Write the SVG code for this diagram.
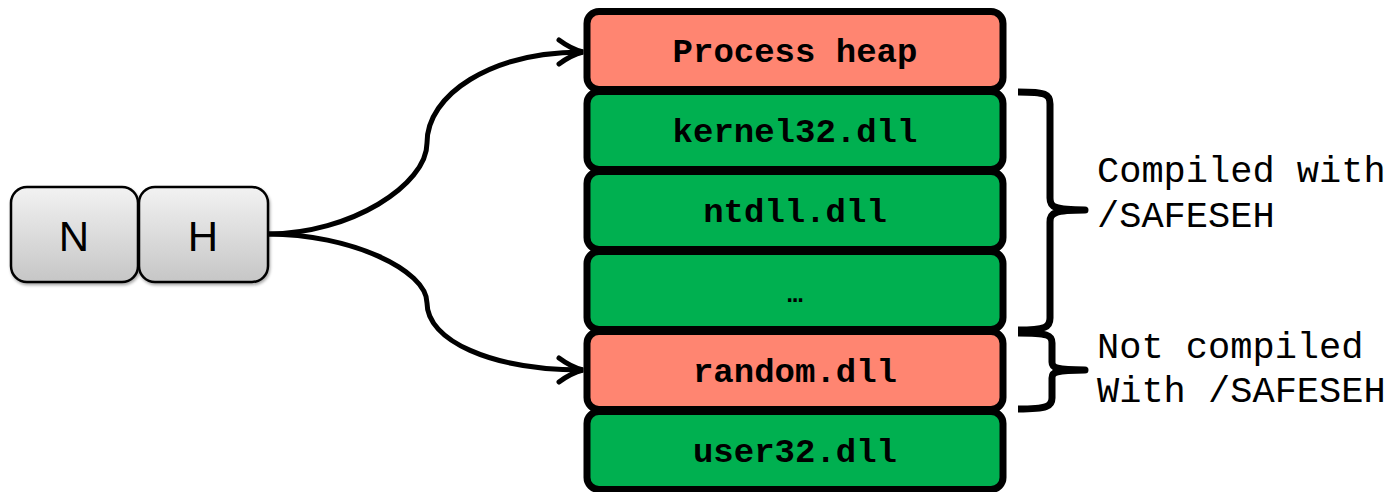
<svg xmlns="http://www.w3.org/2000/svg" width="1390" height="492" viewBox="0 0 1390 492">
<style>
.blk{stroke:#000;stroke-width:7}
.red{fill:#FF8571}
.grn{fill:#00B050}
.lbl{font-family:"Liberation Mono","Courier New",monospace;font-weight:bold;font-size:34px;text-anchor:middle;fill:#000}
.note{font-family:"Liberation Mono","Courier New",monospace;font-size:37px;fill:#000}
.key{stroke:#000;stroke-width:2.5;fill:url(#kg);filter:url(#sh)}
.keyt{font-family:"Liberation Sans",Arial,sans-serif;font-size:42px;text-anchor:middle;fill:#000}
.con{fill:none;stroke:#000;stroke-width:5;marker-end:url(#arr)}
.brace{fill:none;stroke:#000;stroke-width:7;stroke-linecap:butt;stroke-linejoin:round}
</style>
<defs>
<linearGradient id="kg" x1="0" y1="0" x2="0" y2="1">
<stop offset="0" stop-color="#f2f2f2"/>
<stop offset="1" stop-color="#c6c6c6"/>
</linearGradient>
<filter id="sh" x="-10%" y="-10%" width="130%" height="130%">
<feDropShadow dx="1" dy="2" stdDeviation="1.5" flood-color="#000" flood-opacity="0.35"/>
</filter>
<marker id="arr" markerUnits="userSpaceOnUse" markerWidth="40" markerHeight="40" refX="0" refY="0" viewBox="-30 -20 40 40" orient="auto">
<path d="M-24,-12 Q-12,-3 0,0 Q-12,3 -24,12" fill="none" stroke="#000" stroke-width="5" stroke-linecap="round" stroke-linejoin="miter"/>
</marker>
</defs>
<g id="connectors">
<path class="con" d="M268,234 C350,234 427,185 427,143 C427,95 490,52 583,52"/>
<path class="con" d="M268,234 C350,234 427,270 427,303 C427,340 490,370 583,370"/>
</g>
<g id="key-N">
<rect class="key" x="11" y="187" width="127" height="95" rx="16"/>
<text class="keyt" x="74" y="251">N</text>
</g>
<g id="key-H">
<rect class="key" x="139" y="187" width="129" height="95" rx="16"/>
<text class="keyt" x="203" y="251">H</text>
</g>
<g id="process-heap">
<rect class="blk red" x="587" y="11.5" width="416" height="78" rx="12"/>
<text class="lbl" x="795" y="62">Process heap</text>
</g>
<g id="kernel32">
<rect class="blk grn" x="587" y="91.5" width="416" height="78" rx="12"/>
<text class="lbl" x="795" y="142">kernel32.dll</text>
</g>
<g id="ntdll">
<rect class="blk grn" x="587" y="171.5" width="416" height="78" rx="12"/>
<text class="lbl" x="795" y="222">ntdll.dll</text>
</g>
<g id="ellipsis">
<rect class="blk grn" x="587" y="251.5" width="416" height="78" rx="12"/>
<text class="lbl" x="795" y="302" style="font-size:26px">…</text>
</g>
<g id="random">
<rect class="blk red" x="587" y="331.5" width="416" height="78" rx="12"/>
<text class="lbl" x="795" y="382">random.dll</text>
</g>
<g id="user32">
<rect class="blk grn" x="587" y="411.5" width="416" height="78" rx="12"/>
<text class="lbl" x="795" y="462">user32.dll</text>
</g>
<g id="brace-safeseh">
<path class="brace" d="M1018,92 C1046,92 1050,94 1050,104 L1050,198 C1050,207 1054,210 1085,210 C1054,210 1050,213 1050,222 L1050,318 C1050,327 1046,330 1018,330"/>
<text class="note" x="1097" y="182">Compiled with</text>
<text class="note" x="1097" y="227">/SAFESEH</text>
</g>
<g id="brace-nosafeseh">
<path class="brace" d="M1018,333 C1048,333 1052,335 1052,343 L1052,362 C1052,368 1056,370 1085,370 C1056,370 1052,372 1052,378 L1052,398 C1052,406 1048,409 1018,409"/>
<text class="note" x="1097" y="358">Not compiled</text>
<text class="note" x="1097" y="402">With /SAFESEH</text>
</g>
</svg>
